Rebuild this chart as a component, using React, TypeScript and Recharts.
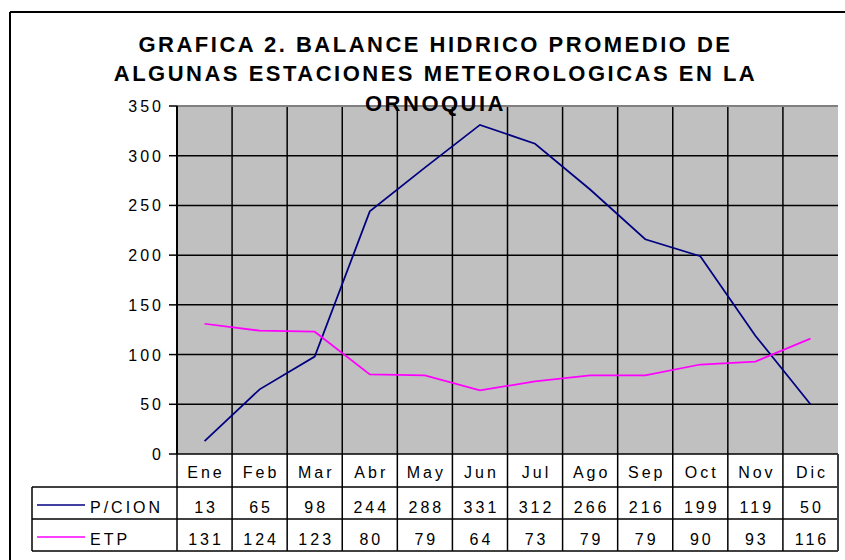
import React from 'react';
import {
  ComposedChart,
  Line,
  XAxis,
  YAxis,
  CartesianGrid,
  ReferenceLine,
  Customized,
} from 'recharts';

const months = ['Ene', 'Feb', 'Mar', 'Abr', 'May', 'Jun', 'Jul', 'Ago', 'Sep', 'Oct', 'Nov', 'Dic'];
const pcion = [13, 65, 98, 244, 288, 331, 312, 266, 216, 199, 119, 50];
const etp = [131, 124, 123, 80, 79, 64, 73, 79, 79, 90, 93, 116];
const yTicks = [0, 50, 100, 150, 200, 250, 300, 350];
const seriesNames = ['P/CION', 'ETP'];
const titleLines = [
  'GRAFICA 2. BALANCE HIDRICO PROMEDIO DE',
  'ALGUNAS ESTACIONES METEOROLOGICAS EN LA',
  'ORNOQUIA',
];

const PCION_COLOR = '#000080';
const ETP_COLOR = '#FF00FF';
const FONT = "'Liberation Sans', Arial, sans-serif";

const data = months.map((m, i) => ({ month: m, pcion: pcion[i], etp: etp[i] }));

const textStyle = {
  fontFamily: FONT,
  fontSize: 16,
  letterSpacing: 3,
  fill: '#000',
} as const;

function TableTick(props: any) {
  const { x, y, payload, index, width } = props;
  const n = months.length;
  const bw = (width ?? 661) / n;
  const y0 = y;
  const left = x - bw / 2;
  const right = x + bw / 2;
  const plotLeft = x - bw / 2 - index * bw;
  const plotRight = plotLeft + n * bw;
  const row1 = y0 + 33;
  const row2 = y0 + 65;
  const row3 = y0 + 97;
  const lineStyle = { stroke: '#000', strokeWidth: 1.5 };
  const i = index as number;
  return (
    <g>
      {i === 0 && (
        <g>
          <line x1={left} y1={y0} x2={left} y2={row3} {...lineStyle} />
          <line x1={32} y1={row1} x2={plotRight} y2={row1} {...lineStyle} />
          <line x1={32} y1={row2} x2={plotRight} y2={row2} {...lineStyle} />
          <line x1={32} y1={row3} x2={plotRight} y2={row3} {...lineStyle} />
          <line x1={32} y1={row1} x2={32} y2={row3} {...lineStyle} />
          <line x1={37} y1={y0 + 51} x2={85} y2={y0 + 51} stroke={PCION_COLOR} strokeWidth={1.5} />
          <line x1={37} y1={y0 + 83} x2={85} y2={y0 + 83} stroke={ETP_COLOR} strokeWidth={1.5} />
          <text x={90} y={y0 + 59} {...textStyle}>{seriesNames[0]}</text>
          <text x={90} y={y0 + 91} {...textStyle}>{seriesNames[1]}</text>
        </g>
      )}
      <line
        x1={right}
        y1={y0}
        x2={right}
        y2={row3}
        stroke={i === n - 1 ? '#404040' : '#000'}
        strokeWidth={i === n - 1 ? 2 : 1.5}
      />
      <text x={x + 1.5} y={y0 + 24} textAnchor="middle" {...textStyle}>{payload.value}</text>
      <text x={x + 1.5} y={y0 + 59} textAnchor="middle" {...textStyle}>{pcion[i]}</text>
      <text x={x + 1.5} y={y0 + 91} textAnchor="middle" {...textStyle}>{etp[i]}</text>
    </g>
  );
}

function YTick(props: any) {
  const { x, y, payload } = props;
  return (
    <text x={x + 3} y={y} dy={6} textAnchor="end" {...textStyle}>
      {payload.value}
    </text>
  );
}

function Frame() {
  return (
    <g>
      <line x1={10} y1={12} x2={845} y2={12} stroke="#000" strokeWidth={2} />
      <line x1={10} y1={12} x2={10} y2={560} stroke="#000" strokeWidth={2} />
    </g>
  );
}

function TitleOverlay() {
  const baselines = [52, 81, 111];
  return (
    <svg
      width={845}
      height={130}
      style={{ position: 'absolute', left: 0, top: 0, pointerEvents: 'none' }}
    >
      {titleLines.map((t, k) => (
        <text
          key={k}
          x={435.5}
          y={baselines[k]}
          textAnchor="middle"
          fontFamily={FONT}
          fontSize={22}
          fontWeight="bold"
          letterSpacing={2.5}
          fill="#000"
        >
          {t}
        </text>
      ))}
    </svg>
  );
}

// category boundaries from the band scale of the x axis
function bandBoundaries(args: any) {
  const { xAxis, offset } = args || {};
  const scale = xAxis && xAxis.scale;
  if (scale && typeof scale === 'function') {
    const pts = months.slice(1).map((m) => scale(m)).filter((v: any) => typeof v === 'number' && !isNaN(v));
    if (pts.length === months.length - 1) return pts;
  }
  const w = offset.width / months.length;
  return months.slice(1).map((_, i) => offset.left + (i + 1) * w);
}

export default function App() {
  return (
    <div style={{ position: 'absolute', left: 0, top: 0, width: 845, height: 560, background: '#fff' }}>
      <ComposedChart
        width={845}
        height={560}
        data={data}
        margin={{ top: 106, right: 7, bottom: 0, left: 0 }}
      >
        <Customized component={Frame} />
        <CartesianGrid
          fill="#C0C0C0"
          stroke="#000"
          strokeWidth={1.5}
          strokeOpacity={1}
          verticalCoordinatesGenerator={bandBoundaries}
        />
        <XAxis
          dataKey="month"
          scale="band"
          height={106}
          interval={0}
          tickSize={0}
          tickMargin={0}
          axisLine={false}
          tickLine={false}
          tick={<TableTick />}
        />
        <YAxis
          domain={[0, 350]}
          ticks={yTicks}
          width={177}
          tickSize={8}
          tickMargin={8}
          axisLine={{ stroke: '#000', strokeWidth: 2 }}
          tickLine={{ stroke: '#000', strokeWidth: 1.5 }}
          tick={<YTick />}
          interval={0}
        />
        <YAxis
          yAxisId="right"
          orientation="right"
          width={0}
          domain={[0, 350]}
          tick={false}
          tickLine={false}
          axisLine={{ stroke: '#808080', strokeWidth: 2 }}
        />
        <ReferenceLine y={350} stroke="#808080" strokeWidth={2} />
        <Line
          dataKey="pcion"
          stroke={PCION_COLOR}
          strokeWidth={1.75}
          dot={false}
          isAnimationActive={false}
        />
        <Line
          dataKey="etp"
          stroke={ETP_COLOR}
          strokeWidth={1.75}
          dot={false}
          isAnimationActive={false}
        />
      </ComposedChart>
      <TitleOverlay />
    </div>
  );
}
